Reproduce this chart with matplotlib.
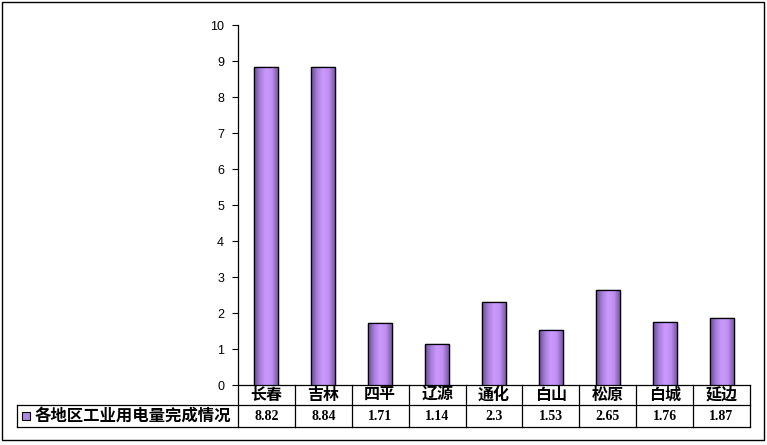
import matplotlib
matplotlib.use("Agg")
import matplotlib.pyplot as plt
import numpy as np
from matplotlib.colors import LinearSegmentedColormap
from matplotlib.patches import Rectangle

plt.rcParams["font.family"] = ["Noto Sans CJK SC", "DejaVu Sans"]

regions = ["长春", "吉林", "四平", "辽源", "通化", "白山", "松原", "白城", "延边"]
values = [8.82, 8.84, 1.71, 1.14, 2.3, 1.53, 2.65, 1.76, 1.87]
value_labels = ["8.82", "8.84", "1.71", "1.14", "2.3", "1.53", "2.65", "1.76", "1.87"]
series_name = "各地区工业用电量完成情况"
yticks = list(range(0, 11))

W, H = 767, 445
fig = plt.figure(figsize=(W / 100, H / 100), dpi=100)

# outer chart border
fig.patches.append(Rectangle((2 / W, 1 - 440 / H), 762 / W, 438 / H,
                             transform=fig.transFigure, fill=False,
                             edgecolor="black", linewidth=1.0))

ax_l, ax_r, ax_t, ax_b = 238, 750, 25, 385
ax = fig.add_axes([ax_l / W, 1 - ax_b / H, (ax_r - ax_l) / W, (ax_b - ax_t) / H])
n = len(regions)
for s in ["top", "right", "bottom"]:
    ax.spines[s].set_visible(False)
ax.spines["left"].set_linewidth(0.9)
ax.set_xticks([])
ax.set_yticks(yticks)
ax.set_yticklabels([str(t) for t in yticks], family="Liberation Sans", fontsize=9)
ax.tick_params(axis="y", direction="out", length=4, width=0.8, pad=6)

# cylinder-like horizontal gradient for each bar
cmap = LinearSegmentedColormap.from_list(
    "bar", ["#6a4a9a", "#a680d8", "#cc99ff", "#c090f0", "#7a58aa"])
grad = np.linspace(0, 1, 64).reshape(1, -1)
bw = 0.42
bars = ax.bar(range(n), values, width=bw, color="#b088e8",
              edgecolor="black", linewidth=0.9, zorder=3)
for b in bars:
    im = ax.imshow(grad, cmap=cmap, aspect="auto", zorder=3.5,
                   extent=[b.get_x(), b.get_x() + b.get_width(), 0, b.get_height()])
    im.set_clip_path(b)
    ax.add_patch(Rectangle((b.get_x(), 0), b.get_width(), b.get_height(),
                           fill=False, edgecolor="black", linewidth=0.9, zorder=4))
ax.set_xlim(-0.5, n - 0.5)
ax.set_ylim(0, 10)

# data table below the axis (axes-fraction y)
ph = ax_b - ax_t
y_hdr = -20 / ph
y_row = -42 / ph
x_leg = (17 - ax_l) / (ax_r - ax_l) * n - 0.5
tr = ax.get_xaxis_transform()
kw = dict(transform=tr, color="black", linewidth=0.9, clip_on=False)
ax.plot([-0.5, n - 0.5], [0, 0], **kw)
ax.plot([x_leg, n - 0.5], [y_hdr, y_hdr], **kw)
ax.plot([x_leg, n - 0.5], [y_row, y_row], **kw)
ax.plot([x_leg, x_leg], [y_hdr, y_row], **kw)
for i in range(n + 1):
    ax.plot([i - 0.5, i - 0.5], [0, y_row], **kw)

for i, (reg, lab) in enumerate(zip(regions, value_labels)):
    ax.text(i, y_hdr / 2, reg, transform=tr,
            ha="center", va="center", fontsize=11.5, fontweight="bold")
    ax.text(i, (y_hdr + y_row) / 2, lab, transform=tr,
            ha="center", va="center", fontsize=10, fontweight="bold",
            family="Liberation Serif")

# legend key and series name
kx = (22 - ax_l) / (ax_r - ax_l) * n - 0.5
kw_w = 8 / (ax_r - ax_l) * n
ax.add_patch(Rectangle((kx, (y_hdr + y_row) / 2 - 4 / ph), kw_w, 8 / ph,
                       transform=tr, facecolor="#b088e8",
                       edgecolor="black", linewidth=0.8, clip_on=False))
ax.text(kx + kw_w + 5 / (ax_r - ax_l) * n, (y_hdr + y_row) / 2, series_name,
        transform=tr, ha="left", va="center",
        fontsize=11.8, fontweight="bold")

fig.savefig("out.png", dpi=100)
